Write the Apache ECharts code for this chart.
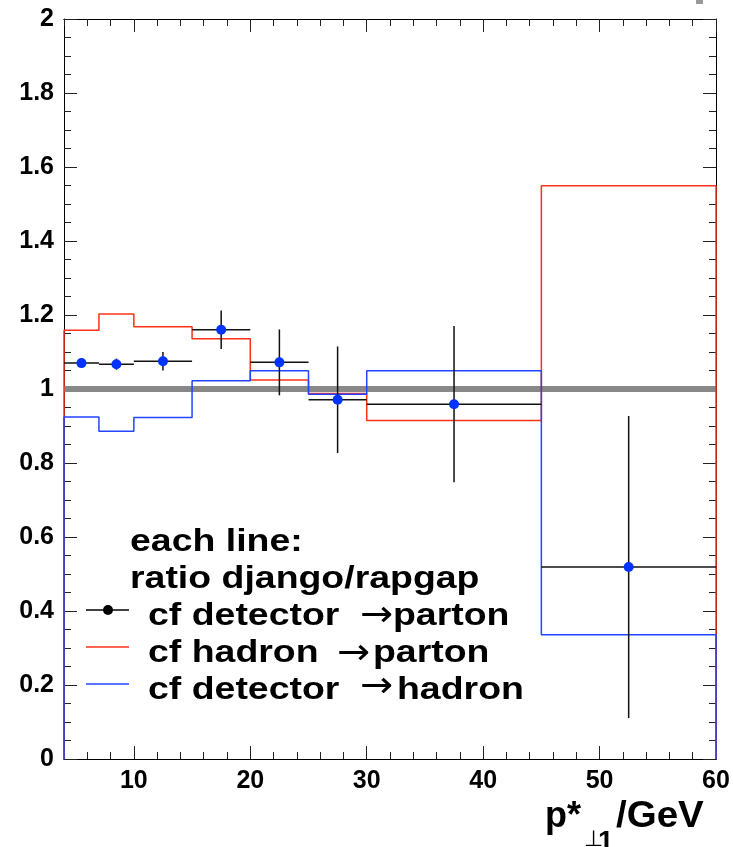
<!DOCTYPE html>
<html><head><meta charset="utf-8">
<script src="https://cdn.jsdelivr.net/npm/echarts@6/dist/echarts.min.js"></script>
<style>html,body{margin:0;padding:0;background:#fff}#c{width:733px;height:847px}</style>
</head><body><div id="c"></div>
<script>
// ---- data ----
const binEdges = [4, 7, 10, 15, 20, 25, 30, 45, 60];
const binCenters = [5.5, 8.5, 12.5, 17.5, 22.5, 27.5, 37.5, 52.5];
const detectorToParton = [1.070, 1.067, 1.075, 1.160, 1.072, 0.971, 0.959, 0.519];
const detectorToPartonErr = [0.012, 0.015, 0.025, 0.052, 0.089, 0.144, 0.211, 0.408];
const hadronToParton = [1.159, 1.203, 1.168, 1.136, 1.024, 0.988, 0.915, 1.549];
const detectorToHadron = [0.924, 0.886, 0.923, 1.022, 1.049, 0.986, 1.049, 0.336];
const referenceLine = [[4, 1], [60, 1]];
const xMajorTicks = [10, 20, 30, 40, 50, 60];
const xTickLabels = ['10', '20', '30', '40', '50', '60'];
const yTickLabels = ['0', '0.2', '0.4', '0.6', '0.8', '1', '1.2', '1.4', '1.6', '1.8', '2'];

const FONT = "'Liberation Sans', Arial, Helvetica, sans-serif";
const SYM = "'DejaVu Sans', sans-serif";

function stepPoints(vals) {
  const pts = [[binEdges[0], 0]];
  vals.forEach((v, i) => { pts.push([binEdges[i], v]); pts.push([binEdges[i + 1], v]); });
  pts.push([binEdges[binEdges.length - 1], 0]);
  return pts;
}

const tickLine = { show: true, lineStyle: { color: '#000', width: 1 } };
function xAxisDef(position, major, labels) {
  const tick = { show: true, inside: true, length: major ? 13 : 7, lineStyle: { color: '#222', width: 1 } };
  if (major) tick.customValues = xMajorTicks;
  const label = labels ? {
    show: true, margin: 10, color: '#000', fontFamily: FONT, fontWeight: 'bold', fontSize: 25,
    customValues: xMajorTicks,
    formatter: v => xTickLabels[xMajorTicks.indexOf(Math.round(v))] || ''
  } : { show: false };
  return {
    type: 'value', position, min: 4, max: 60, interval: 2,
    axisLine: tickLine, axisTick: tick, axisLabel: label,
    splitLine: { show: false }
  };
}
function yAxisDef(position, labels) {
  return {
    type: 'value', position, min: 0, max: 2, interval: 0.2,
    axisLine: tickLine,
    axisTick: { show: true, inside: true, length: 13, lineStyle: { color: '#222', width: 1 } },
    minorTick: { show: true, splitNumber: 4, length: 7, lineStyle: { color: '#222', width: 1 } },
    axisLabel: labels ? {
      show: true, margin: 10, color: '#000', fontFamily: FONT, fontWeight: 'bold', fontSize: 25,
      formatter: v => yTickLabels[Math.round(v / 0.2)]
    } : { show: false },
    splitLine: { show: false }
  };
}

function txt(x, y, text, size, opts) {
  opts = opts || {};
  return {
    type: 'text', x, y, scaleX: opts.scaleX || 1, z: 100,
    style: {
      text, fontSize: size, fontFamily: opts.family || FONT, fontWeight: opts.weight || 'bold',
      fill: '#000', verticalAlign: 'middle', align: 'left'
    }
  };
}
const SX = 1.17;
const ARROW = { family: SYM, weight: 'normal', scaleX: 1.1 };
const legendGraphics = [
  txt(130, 542, 'each line:', 32, { scaleX: SX }),
  txt(130, 579, 'ratio django/rapgap', 32, { scaleX: SX }),
  { type: 'line', z: 100, shape: { x1: 86, y1: 610, x2: 129, y2: 610 }, style: { stroke: '#000', lineWidth: 1.5 } },
  { type: 'circle', z: 100, shape: { cx: 108, cy: 610, r: 5 }, style: { fill: '#000' } },
  txt(148, 616, 'cf detector', 32, { scaleX: SX }),
  txt(360, 617, '→', 36, ARROW),
  txt(393, 616, 'parton', 32, { scaleX: SX }),
  { type: 'line', z: 100, shape: { x1: 86, y1: 647, x2: 129, y2: 647 }, style: { stroke: '#ff3018', lineWidth: 1.5 } },
  txt(148, 653, 'cf hadron', 32, { scaleX: SX }),
  txt(337, 655, '→', 36, ARROW),
  txt(373, 653, 'parton', 32, { scaleX: SX }),
  { type: 'line', z: 100, shape: { x1: 86, y1: 684, x2: 129, y2: 684 }, style: { stroke: '#2244ff', lineWidth: 1.5 } },
  txt(148, 690, 'cf detector', 32, { scaleX: SX }),
  txt(360, 688, '→', 36, ARROW),
  txt(397, 690, 'hadron', 32, { scaleX: SX }),
  // axis title p*_{⊥1}/GeV
  txt(545, 817, 'p*', 36, { scaleX: 1.0 }),
  txt(584, 840, '⊥', 22, { family: SYM, weight: 'normal' }),
  txt(598, 842, '1', 28, {}),
  txt(616, 817, '/GeV', 36, { scaleX: 1.07 }),
  { type: 'rect', shape: { x: 696, y: 0, width: 7, height: 4 }, style: { fill: '#999' } }
];

const chart = echarts.init(document.getElementById('c'), null, { renderer: 'canvas' });
chart.setOption({
  animation: false,
  backgroundColor: '#fff',
  grid: { left: 64, right: 17, top: 19, bottom: 88, containLabel: false },
  xAxis: [
    xAxisDef('bottom', false, false),
    xAxisDef('bottom', true, true),
    xAxisDef('top', false, false),
    xAxisDef('top', true, false)
  ],
  yAxis: [yAxisDef('left', true), yAxisDef('right', false)],
  series: [
    {
      type: 'line', xAxisIndex: 1, yAxisIndex: 0, data: referenceLine, symbol: 'none',
      lineStyle: { color: '#888', width: 6 }, z: 1
    },
    {
      name: 'cf hadron →parton', type: 'line', xAxisIndex: 1, yAxisIndex: 0,
      data: stepPoints(hadronToParton), symbol: 'none', clip: false,
      lineStyle: { color: '#ff3018', width: 1.5 }, z: 2
    },
    {
      name: 'cf detector →hadron', type: 'line', xAxisIndex: 1, yAxisIndex: 0,
      data: stepPoints(detectorToHadron), symbol: 'none', clip: false,
      lineStyle: { color: '#2244ff', width: 1.5 }, z: 3
    },
    {
      name: 'cf detector →parton', type: 'custom', xAxisIndex: 1, yAxisIndex: 0, z: 4,
      encode: { x: 0, y: 1 },
      data: binCenters.map((x, i) => [x, detectorToParton[i], binEdges[i], binEdges[i + 1], detectorToPartonErr[i]]),
      renderItem(params, api) {
        const x = api.value(0), y = api.value(1), lo = api.value(2), hi = api.value(3), e = api.value(4);
        const c = api.coord([x, y]);
        const pl = api.coord([lo, y]), ph = api.coord([hi, y]);
        const pt = api.coord([x, y + e]), pb = api.coord([x, y - e]);
        return {
          type: 'group', children: [
            { type: 'line', shape: { x1: pl[0], y1: c[1], x2: ph[0], y2: c[1] }, style: { stroke: '#111', lineWidth: 1.5 } },
            { type: 'line', shape: { x1: c[0], y1: pt[1], x2: c[0], y2: pb[1] }, style: { stroke: '#111', lineWidth: 1.5 } },
            { type: 'circle', shape: { cx: c[0], cy: c[1], r: 5 }, style: { fill: '#0033ff' } }
          ]
        };
      }
    }
  ],
  graphic: legendGraphics
});
</script>
</body></html>
